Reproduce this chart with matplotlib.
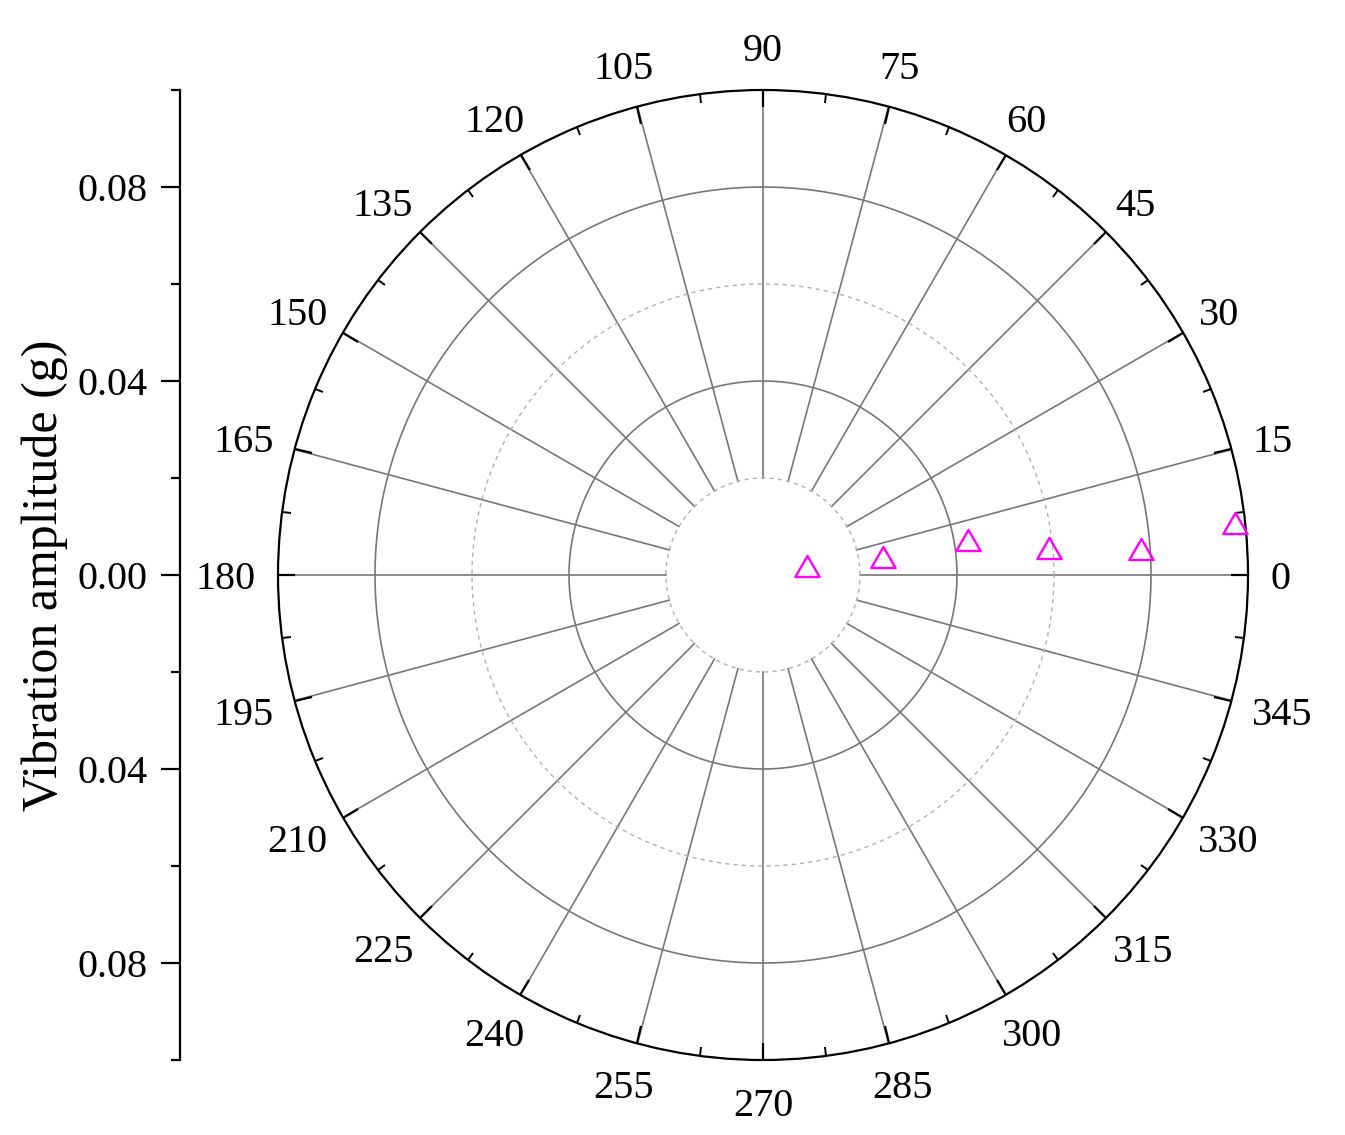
import numpy as np
import matplotlib
matplotlib.use("Agg")
import matplotlib.pyplot as plt
from matplotlib.path import Path
from matplotlib.ticker import FixedLocator, FuncFormatter

plt.rcParams['font.family'] = ['Liberation Serif', 'DejaVu Serif']

# data
angle_deg = [11.6, 8.4, 9.6, 5.4, 3.9, 6.3]
amplitude = [0.0093, 0.0251, 0.0429, 0.0593, 0.0782, 0.0979]

theta_ticks = list(range(0, 360, 15))
theta_labels = [str(a) for a in theta_ticks]
left_ticks = [-0.08, -0.04, 0.0, 0.04, 0.08]
left_minor = [-0.1, -0.06, -0.02, 0.02, 0.06, 0.1]

W, H = 1345, 1135
DPI = 100
FS = 29
fig = plt.figure(figsize=(W / DPI, H / DPI), dpi=DPI)

# polar plot, centre (763,575), radius 485 px
ax = fig.add_axes([278 / W, 75 / H, 970 / W, 970 / H], projection='polar')
ax.set_ylim(0, 0.1)
ax.set_yticks([])
ax.grid(False)
ax.spines['polar'].set_linewidth(1.6)
ax.spines['polar'].set_color('black')

major = np.deg2rad(theta_ticks)
minor = np.deg2rad(np.arange(7.5, 360, 15))
ax.set_xticks(major)
ax.set_xticklabels([])
ax.set_xticks(minor, minor=True)
# polar hides theta tick marks by default; turn the outer ones on
ax.xaxis.set_ticks_position('top')
ax.tick_params(axis='x', which='major', direction='in', length=12.5, width=1.6, colors='black')
ax.tick_params(axis='x', which='minor', direction='in', length=6.5, width=1.4, colors='black')

# spokes from r=0.02 to the rim
for t in major:
    ax.plot([t, t], [0.02, 0.1], color='#777777', lw=1.2, zorder=1)

# circles
tt = np.linspace(0, 2 * np.pi, 721)
for r in [0.04, 0.08]:
    ax.plot(tt, np.full_like(tt, r), color='#777777', lw=1.2, zorder=1)
for r in [0.02, 0.06]:
    ax.plot(tt, np.full_like(tt, r), color='#b0b0b0', lw=1.0, ls=(0, (3, 3)), zorder=1)

tri = Path([(-1, -0.866), (1, -0.866), (0, 0.866), (0, 0)], closed=True)
ax.plot(np.deg2rad(angle_deg), amplitude, ls='none', marker=tri, markersize=17.5,
        markerfacecolor='none', markeredgecolor='#ff00ff', markeredgewidth=1.7,
        zorder=5, clip_on=False)

# angle labels placed outside the rim, Origin style
cx, cy = ax.transData.transform((0, 0))
R = ax.transData.transform((np.pi / 2, 0.1))[1] - cy
em = FS * DPI / 72
digit_h = 0.676 * em
for a, lab in zip(theta_ticks, theta_labels):
    t = np.deg2rad(a)
    w = len(lab) * 0.5 * em
    x = cx + (R + 22 + w / 2) * np.cos(t)
    y = cy + (R + 29 + digit_h / 2) * np.sin(t) - digit_h / 2
    fig.text(x / W, y / H, lab, fontsize=FS, ha='center', va='baseline')

# left amplitude axis
ax2 = fig.add_axes([180 / W, 75 / H, 0.001, 970 / H])
ax2.patch.set_visible(False)
for s in ['top', 'right', 'bottom']:
    ax2.spines[s].set_visible(False)
ax2.spines['left'].set_linewidth(1.6)
ax2.set_xticks([])
ax2.set_ylim(-0.1, 0.1)
ax2.yaxis.set_major_locator(FixedLocator(left_ticks))
ax2.yaxis.set_minor_locator(FixedLocator(left_minor))
ax2.yaxis.set_major_formatter(FuncFormatter(lambda v, p: "%.2f" % abs(v)))
ax2.tick_params(axis='y', which='major', direction='out', length=13.5, width=1.6, pad=10, labelsize=FS)
ax2.tick_params(axis='y', which='minor', direction='out', length=6.5, width=1.6)
ax2.set_ylabel("Vibration amplitude (g)", fontsize=36, labelpad=7)

fig.savefig("out.png", dpi=DPI)
